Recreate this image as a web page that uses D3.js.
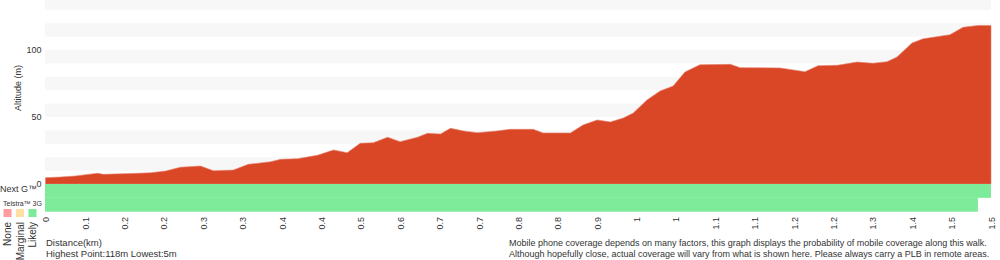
<!DOCTYPE html>
<html>
<head>
<meta charset="utf-8">
<script src="https://cdn.jsdelivr.net/npm/d3@7"></script>
<style>
    html, body { margin: 0; padding: 0; background: #fff; }
    svg { display: block; font-family: "Liberation Sans", Arial, Helvetica, sans-serif; }
</style>
</head>
<body>
<div id="chart"></div>
<script>
// Walk profile.
var distanceKm = [0.000, 0.024, 0.048, 0.084, 0.093, 0.137, 0.169, 0.193, 0.217, 0.249, 0.270,
    0.302, 0.326, 0.362, 0.378, 0.405, 0.437, 0.463, 0.485, 0.506, 0.527, 0.550, 0.570, 0.598,
    0.614, 0.635, 0.651, 0.672, 0.694, 0.726, 0.747, 0.784, 0.800, 0.844, 0.864, 0.887, 0.908,
    0.929, 0.945, 0.967, 0.988, 1.009, 1.028, 1.052, 1.101, 1.117, 1.181, 1.221, 1.242, 1.273,
    1.305, 1.330, 1.353, 1.369, 1.393, 1.411, 1.454, 1.475, 1.499, 1.520];
var altitudeM = [4.7, 5.2, 6.0, 8.0, 7.2, 7.8, 8.4, 9.7, 12.5, 13.4, 9.9,
    10.4, 14.7, 16.6, 18.4, 18.9, 21.4, 25.4, 23.4, 30.4, 30.8, 34.9, 31.6, 34.9,
    37.8, 37.3, 41.6, 39.6, 38.3, 39.6, 40.8, 40.8, 38.1, 38.1, 44.0, 47.8, 46.3,
    49.3, 53.0, 62.7, 69.4, 73.1, 83.6, 89.0, 89.3, 86.8, 86.6, 83.8, 88.3, 88.6,
    91.0, 90.1, 91.3, 94.8, 105.2, 108.4, 111.4, 116.9, 118.3, 118.2];
var tickLabels = ['0', '0.1', '0.2', '0.2', '0.3', '0.3', '0.4', '0.4', '0.5', '0.6', '0.7', '0.7',
    '0.8', '0.8', '0.9', '1', '1', '1.1', '1.1', '1.2', '1.2', '1.3', '1.4', '1.5', '1.5'];
var altitudeTicks = [0, 50, 100];
var networks = ['Next G™', 'Telstra™ 3G'];
var nextGCoverage = [{ from: 0, to: 1.520, level: 'Likely' }];
var telstra3gCoverage = [{ from: 0, to: 1.499, level: 'Likely' }];
var coverageLevels = ['None', 'Marginal', 'Likely'];
var disclaimer = [
    'Mobile phone coverage depends on many factors, this graph displays the probability of mobile coverage along this walk.',
    'Although hopefully close, actual coverage will vary from what is shown here. Please always carry a PLB in remote areas.'
];

(function () {
    'use strict';

    var width = 1000;
    var height = 260;
    var plot = { left: 45.5, right: 991, top: 0, bottom: 184 };
    var coverageBottom = 211.7;
    var textColour = '#333';
    var levelColour = d3.scaleOrdinal().domain(coverageLevels).range(['#ff9c9c', '#ffe0a2', '#7deb9a']);

    var totalKm = distanceKm[distanceKm.length - 1];
    var profile = distanceKm.map(function (d, i) { return [d, altitudeM[i]]; });

    var x = d3.scaleLinear().domain([0, totalKm]).range([plot.left, plot.right]);
    var y = d3.scaleLinear().domain([0, 137.3]).range([plot.bottom, plot.top]);
    var row = d3.scaleBand().domain(networks).range([plot.bottom, coverageBottom]);

    var svg = d3.select('#chart').append('svg')
        .attr('width', width)
        .attr('height', height)
        .attr('viewBox', [0, 0, width, height]);

    // alternating altitude bands, every 10 m
    var yMax = y.domain()[1];
    var bands = d3.range(10, yMax, 20);
    svg.append('g').selectAll('rect').data(bands).join('rect')
        .attr('x', plot.left - 0.5)
        .attr('width', plot.right - plot.left + 0.5)
        .attr('y', function (v) { return y(Math.min(v + 10, yMax)); })
        .attr('height', function (v) { return y(v) - y(Math.min(v + 10, yMax)); })
        .attr('fill', '#f7f7f7');

    var area = d3.area()
        .x(function (d) { return x(d[0]); })
        .y0(y(0))
        .y1(function (d) { return y(d[1]); });

    svg.append('path')
        .datum(profile)
        .attr('d', area)
        .attr('fill', '#d94727')
        .attr('stroke', '#e7806b')
        .attr('stroke-width', 0.6);

    // coverage strips under the profile
    var coverage = [nextGCoverage, telstra3gCoverage];
    networks.forEach(function (name, i) {
        svg.append('g').selectAll('rect').data(coverage[i]).join('rect')
            .attr('x', function (d) { return x(d.from) - 0.5; })
            .attr('width', function (d) { return x(d.to) - x(d.from) + 0.5; })
            .attr('y', row(name))
            .attr('height', row.bandwidth())
            .attr('fill', function (d) { return levelColour(d.level); });
    });

    // axes
    var tickValues = tickLabels.map(function (t, i) { return i * totalKm / (tickLabels.length - 1); });
    var xAxis = svg.append('g')
        .attr('transform', 'translate(0,217)')
        .call(d3.axisBottom(x)
            .tickValues(tickValues)
            .tickSize(0)
            .tickPadding(0)
            .tickFormat(function (d, i) { return tickLabels[i]; }));
    xAxis.select('.domain').remove();
    xAxis.selectAll('text')
        .attr('transform', 'rotate(-90)')
        .attr('x', 0)
        .attr('y', 0)
        .attr('dy', '0.35em')
        .attr('text-anchor', 'end')
        .attr('fill', textColour)
        .style('font-size', '9px')
        .style('font-family', null);

    var yAxis = svg.append('g')
        .attr('transform', 'translate(41.5,0)')
        .call(d3.axisLeft(y).tickValues(altitudeTicks).tickSize(0).tickPadding(0));
    yAxis.select('.domain').remove();
    yAxis.selectAll('text')
        .attr('fill', textColour)
        .style('font-size', '9px')
        .style('font-family', null);

    svg.append('text')
        .attr('transform', 'translate(21,88) rotate(-90)')
        .attr('text-anchor', 'middle')
        .attr('fill', textColour)
        .style('font-size', '9px')
        .text('Altitude (m)');

    // network labels
    svg.append('text')
        .attr('x', 0).attr('y', 192)
        .attr('fill', textColour)
        .style('font-size', '9px')
        .text(networks[0]);
    svg.append('text')
        .attr('x', 3).attr('y', 206)
        .attr('fill', textColour)
        .style('font-size', '7px')
        .text(networks[1]);

    // legend
    var legend = svg.append('g').selectAll('g').data(coverageLevels).join('g')
        .attr('transform', function (d, i) { return 'translate(' + (3.5 + i * 12.5) + ',209)'; });
    legend.append('rect')
        .attr('width', 8).attr('height', 8)
        .attr('fill', function (d) { return levelColour(d); });
    legend.append('text')
        .attr('transform', 'translate(4,13) rotate(-90)')
        .attr('dy', '0.35em')
        .attr('text-anchor', 'end')
        .attr('fill', textColour)
        .style('font-size', '10px')
        .text(function (d) { return d; });

    // footer text
    var hi = Math.round(d3.max(altitudeM));
    var lo = Math.round(d3.min(altitudeM));
    svg.append('text')
        .attr('x', 46).attr('y', 246)
        .attr('fill', textColour)
        .style('font-size', '9.5px')
        .text('Distance(km)');
    svg.append('text')
        .attr('x', 46).attr('y', 257)
        .attr('fill', textColour)
        .style('font-size', '9.5px')
        .text('Highest Point:' + hi + 'm Lowest:' + lo + 'm');

    svg.append('g').selectAll('text').data(disclaimer).join('text')
        .attr('x', 509)
        .attr('y', function (d, i) { return 246 + i * 11; })
        .attr('fill', textColour)
        .style('font-size', '9px')
        .text(function (d) { return d; });
})();
</script>
</body>
</html>
